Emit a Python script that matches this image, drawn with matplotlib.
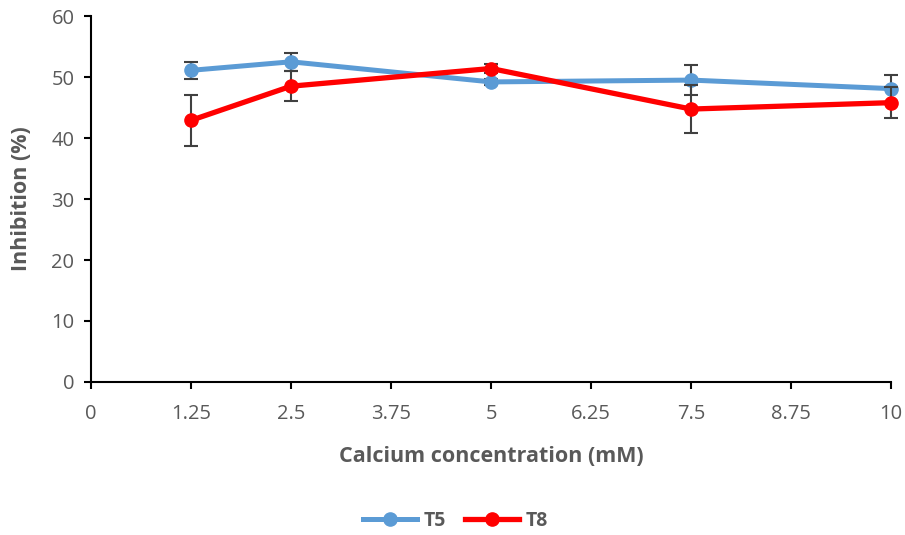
import matplotlib
matplotlib.use("Agg")
import matplotlib.pyplot as plt
from matplotlib.lines import Line2D

x = [1.25, 2.5, 5, 7.5, 10]
t5 = [51.1, 52.5, 49.2, 49.5, 48.1]
t5_err = [1.4, 1.5, 0.5, 2.5, 2.2]
t8 = [42.9, 48.5, 51.4, 44.75, 45.8]
t8_err = [4.2, 2.5, 0.8, 4.0, 2.5]
xticks = [0, 1.25, 2.5, 3.75, 5, 6.25, 7.5, 8.75, 10]
xticklabels = ["0", "1.25", "2.5", "3.75", "5", "6.25", "7.5", "8.75", "10"]
yticks = [0, 10, 20, 30, 40, 50, 60]

plt.rcParams['font.family'] = ['Open Sans', 'DejaVu Sans']

blue = '#5B9BD5'
red = '#FF0000'

fig = plt.figure(figsize=(9.05, 5.35), dpi=100)
ax = fig.add_axes([0.1006, 0.286, 0.884, 0.684])

for yv, err, col, lw, z in [(t5, t5_err, blue, 3.6, 3), (t8, t8_err, red, 3.8, 4)]:
    cont = ax.errorbar(x, yv, yerr=err, color=col, lw=lw, marker='o', ms=9.5,
                       ecolor='#404040', elinewidth=1.5, capsize=5, capthick=1.5, zorder=z)
    for art in [cont.lines[0], *cont.lines[1], *cont.lines[2]]:
        art.set_clip_on(False)

ax.set_xlim(0, 10)
ax.set_ylim(0, 60)
ax.set_xticks(xticks)
ax.set_xticklabels(xticklabels)
ax.set_yticks(yticks)
for s in ['top', 'right']:
    ax.spines[s].set_visible(False)
for s in ['left', 'bottom']:
    ax.spines[s].set_color('black')
    ax.spines[s].set_linewidth(1.5)
ax.tick_params(axis='both', colors='black', labelcolor='#595959', labelsize=14.5,
               width=1.5, length=5, direction='out')
ax.tick_params(axis='x', pad=11)
ax.tick_params(axis='y', pad=7)
ax.set_xlabel('Calcium concentration (mM)', fontsize=15.5, fontweight='bold', color='#595959', labelpad=16)
ax.set_ylabel('Inhibition (%)', fontsize=15.5, fontweight='bold', color='#595959', labelpad=14)

handles = [Line2D([], [], color=blue, lw=3.6, marker='o', ms=9.5),
           Line2D([], [], color=red, lw=3.8, marker='o', ms=9.5)]
fig.legend(handles, ['T5', 'T8'], loc='center', bbox_to_anchor=(0.503, 0.026), ncol=2, frameon=False,
           prop={'size': 14, 'weight': 'bold'}, labelcolor='#595959', handlelength=2.8,
           columnspacing=1.0, handletextpad=0.3)

fig.savefig('out.png', dpi=100)
